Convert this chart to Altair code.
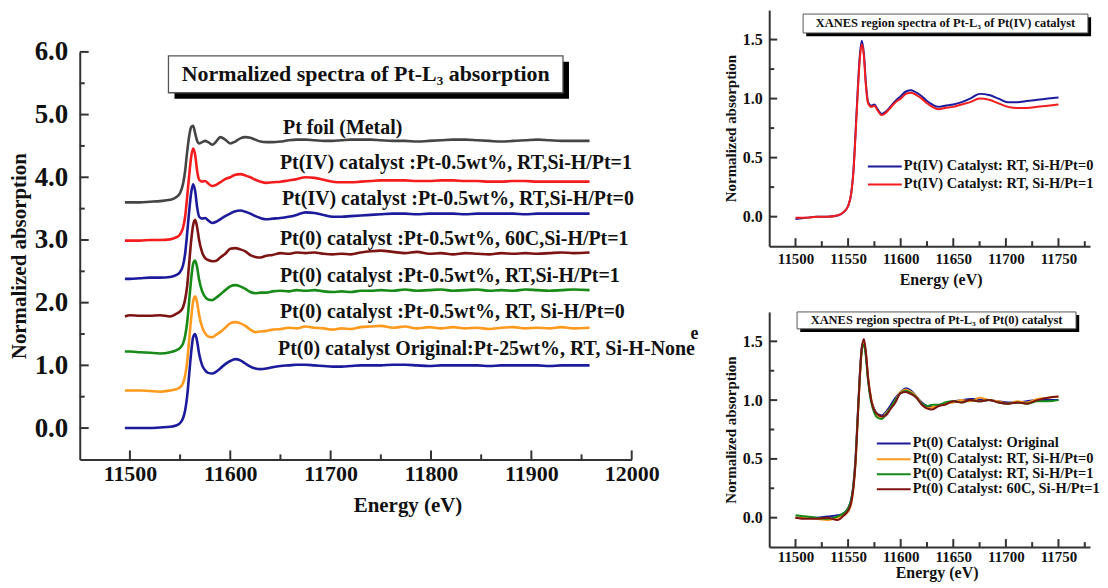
import altair as alt
import pandas as pd

FONT = "Liberation Serif"
NAVY = "#1b1b9b"
ORANGE = "#ff9a1f"
GREEN = "#178a17"
MAROON = "#7d1414"
RED = "#f41c1c"
GRAY = "#454545"
AXC = "#333333"
TXT = "#111111"

# ---------------- data (normalized absorption) ----------------
energy = [11495, 11500, 11510, 11520, 11530, 11540, 11546, 11550, 11553, 11555,
          11557, 11559, 11561, 11563, 11565, 11567, 11569, 11572, 11575, 11578,
          11582, 11586, 11590, 11595, 11600, 11605, 11610, 11615, 11620, 11625,
          11630, 11636, 11642, 11650, 11658, 11666, 11675, 11684, 11693, 11702,
          11711, 11720, 11730, 11740, 11750, 11762, 11774, 11786, 11798, 11810,
          11822, 11834, 11846, 11858, 11870, 11882, 11894, 11906, 11918, 11930,
          11942, 11958]

pt0_original = [0.00, 0.00, 0.00, 0.00, 0.01, 0.02, 0.04, 0.08, 0.16, 0.28,
                0.50, 0.85, 1.20, 1.45, 1.50, 1.38, 1.18, 1.00, 0.92, 0.88,
                0.87, 0.90, 0.95, 1.02, 1.07, 1.10, 1.08, 1.03, 0.98, 0.95,
                0.94, 0.95, 0.97, 0.99, 1.00, 1.01, 1.01, 1.00, 0.99, 0.98,
                0.98, 0.99, 1.00, 1.00, 1.00, 1.01, 1.01, 1.00, 0.99, 1.00,
                1.00, 1.00, 1.00, 0.99, 1.00, 1.00, 1.00, 1.00, 0.99, 1.00,
                1.00, 1.00]

pt0_rt_0 = [0.00, 0.00, 0.00, -0.01, -0.02, 0.00, 0.02, 0.05, 0.12, 0.24,
            0.45, 0.80, 1.15, 1.42, 1.50, 1.40, 1.20, 1.01, 0.91, 0.86,
            0.85, 0.89, 0.93, 1.00, 1.07, 1.09, 1.07, 1.03, 0.97, 0.93,
            0.94, 0.95, 0.97, 0.98, 1.00, 0.99, 1.02, 1.00, 0.99, 0.97,
            0.99, 0.98, 1.01, 1.02, 1.03, 1.00, 1.02, 0.99, 1.01, 0.99,
            1.01, 0.99, 1.00, 0.98, 1.00, 1.01, 0.99, 1.00, 0.99, 1.01,
            0.99, 1.00]

pt0_rt_1 = [0.02, 0.02, 0.01, 0.00, -0.01, 0.01, 0.04, 0.08, 0.15, 0.27,
            0.48, 0.82, 1.17, 1.42, 1.47, 1.36, 1.16, 0.98, 0.89, 0.85,
            0.84, 0.88, 0.93, 1.00, 1.06, 1.08, 1.06, 1.02, 0.97, 0.95,
            0.96, 0.96, 0.98, 0.99, 0.98, 1.00, 0.99, 1.00, 0.98, 0.97,
            0.98, 0.97, 0.99, 0.99, 1.00, 0.99, 1.01, 0.99, 1.00, 1.01,
            0.99, 1.00, 1.01, 0.99, 1.00, 0.99, 1.01, 1.00, 0.99, 1.00,
            1.01, 1.00]

pt0_60c = [-0.02, 0.00, -0.01, -0.01, 0.00, -0.02, 0.02, 0.06, 0.13, 0.25,
           0.46, 0.82, 1.18, 1.44, 1.52, 1.40, 1.19, 1.00, 0.91, 0.88,
           0.86, 0.87, 0.92, 0.98, 1.06, 1.07, 1.05, 1.02, 0.96, 0.93,
           0.92, 0.95, 0.96, 0.99, 0.98, 1.00, 0.99, 1.00, 0.98, 0.97,
           0.98, 0.97, 1.00, 1.02, 1.03, 1.01, 0.99, 1.01, 0.98, 0.99,
           0.97, 0.99, 0.98, 0.97, 0.99, 0.98, 0.99, 0.98, 0.99, 1.00,
           0.99, 1.00]

ptiv_0 = [-0.02, -0.02, -0.01, 0.00, 0.00, 0.01, 0.04, 0.09, 0.20, 0.38,
          0.70, 1.05, 1.35, 1.49, 1.38, 1.12, 0.97, 0.94, 0.95, 0.91,
          0.87, 0.89, 0.93, 0.98, 1.02, 1.06, 1.07, 1.05, 1.02, 0.98,
          0.95, 0.93, 0.94, 0.95, 0.97, 1.00, 1.04, 1.03, 1.00, 0.97,
          0.97, 0.98, 0.99, 1.00, 1.01, 1.02, 1.02, 1.01, 1.02, 1.02,
          1.02, 1.01, 1.02, 1.02, 1.02, 1.02, 1.01, 1.02, 1.02, 1.02,
          1.02, 1.02]

ptiv_1 = [-0.01, -0.01, -0.01, 0.00, 0.00, 0.01, 0.04, 0.09, 0.20, 0.37,
          0.68, 1.02, 1.32, 1.46, 1.36, 1.10, 0.96, 0.93, 0.94, 0.90,
          0.86, 0.88, 0.92, 0.97, 1.00, 1.04, 1.05, 1.03, 1.00, 0.96,
          0.93, 0.91, 0.92, 0.93, 0.95, 0.97, 1.00, 0.99, 0.96, 0.93,
          0.92, 0.92, 0.93, 0.94, 0.95, 0.95, 0.95, 0.94, 0.94, 0.95,
          0.95, 0.94, 0.94, 0.93, 0.93, 0.94, 0.94, 0.93, 0.93, 0.93,
          0.93, 0.93]

pt_foil = [0.00, 0.00, 0.00, 0.01, 0.02, 0.04, 0.08, 0.15, 0.30, 0.50,
           0.80, 1.05, 1.20, 1.22, 1.10, 0.98, 0.94, 0.96, 0.98, 0.96,
           0.92, 0.97, 1.04, 1.00, 0.94, 0.97, 1.02, 1.04, 1.03, 1.00,
           0.97, 0.96, 0.96, 0.97, 0.99, 1.00, 1.00, 0.99, 0.98, 0.98,
           0.99, 1.00, 1.00, 1.00, 0.99, 0.98, 0.98, 0.97, 0.98, 0.99,
           1.00, 1.00, 0.99, 0.98, 0.97, 0.98, 0.99, 1.00, 0.99, 0.98,
           0.98, 0.98]

# stacking of the left panel
left_keys = ["a_orig", "b_rt0", "c_rt1", "d_60c", "e_iv0", "f_iv1", "g_foil"]
left_series = [pt0_original, pt0_rt_0, pt0_rt_1, pt0_60c, ptiv_0, ptiv_1, pt_foil]
left_colors = [NAVY, ORANGE, GREEN, MAROON, NAVY, RED, GRAY]
left_offsets = [0.0, 0.6, 1.2, 1.8, 2.4, 3.0, 3.6]

left_labels = ["Pt foil (Metal)",
               "Pt(IV) catalyst :Pt-0.5wt%, RT,Si-H/Pt=1",
               "Pt(IV) catalyst :Pt-0.5wt%, RT,Si-H/Pt=0",
               "Pt(0) catalyst :Pt-0.5wt%, 60C,Si-H/Pt=1",
               "Pt(0) catalyst :Pt-0.5wt%, RT,Si-H/Pt=1",
               "Pt(0) catalyst :Pt-0.5wt%, RT, Si-H/Pt=0",
               "Pt(0) catalyst Original:Pt-25wt%, RT, Si-H-None"]
left_label_E = [11652.5, 11649.5, 11651.5, 11649.5, 11649.5, 11649.5, 11647.6]
left_label_v = [4.79, 4.22, 3.66, 3.01, 2.42, 1.85, 1.26]

left_x_major = [11500, 11600, 11700, 11800, 11900, 12000]
left_x_minor = [11550, 11650, 11750, 11850, 11950]
left_y_major = [0, 1, 2, 3, 4, 5, 6]
left_y_minor = [0.5, 1.5, 2.5, 3.5, 4.5, 5.5]

right_x_major = [11500, 11550, 11600, 11650, 11700, 11750]
right_x_minor = [11525, 11575, 11625, 11675, 11725, 11775]
right_y_major = [0.0, 0.5, 1.0, 1.5]
right_y_minor = [0.25, 0.75, 1.25]

top_keys = ["a_iv0", "b_iv1"]
top_series = [ptiv_0, ptiv_1]
top_colors = [NAVY, RED]
top_labels = ["Pt(IV) Catalyst: RT, Si-H/Pt=0", "Pt(IV) Catalyst: RT, Si-H/Pt=1"]
top_leg_v = [0.425, 0.273]

bot_keys = ["a_orig", "b_rt0", "c_rt1", "d_60c"]
bot_series = [pt0_original, pt0_rt_0, pt0_rt_1, pt0_60c]
bot_colors = [NAVY, ORANGE, GREEN, MAROON]
bot_labels = ["Pt(0) Catalyst: Original", "Pt(0) Catalyst: RT, Si-H/Pt=0",
              "Pt(0) Catalyst: RT, Si-H/Pt=1", "Pt(0) Catalyst: 60C, Si-H/Pt=1"]
bot_leg_v = [0.631, 0.496, 0.369, 0.242]

# ---------------- helpers ----------------
def long_df(keys, series, colors, offsets=None, emin=None, emax=None):
    rows = []
    for i, (k, s, c) in enumerate(zip(keys, series, colors)):
        off = offsets[i] if offsets else 0.0
        for e, v in zip(energy, s):
            if emin is not None and (e < emin or e > emax):
                continue
            rows.append({"E": e, "v": v + off, "key": k, "color": c})
    return pd.DataFrame(rows)


def make_axis(values, fmt, lsize, lpad, title, tsize, tpad, title_x=None):
    kw = dict(values=values, format=fmt, ticks=False, grid=False, domain=True,
              domainColor=AXC, domainWidth=2, labelFont=FONT, labelFontWeight="bold",
              labelFontSize=lsize, labelColor=TXT, labelPadding=lpad,
              labelFlush=False, labelOverlap=False, title=title, titleFont=FONT,
              titleFontSize=tsize, titleFontWeight="bold", titleColor=TXT,
              titlePadding=tpad)
    if title_x is not None:
        kw["titleX"] = title_x
    return alt.Axis(**kw)


def ticks_layers(xenc, yenc, H, xmaj, xmin, ymaj, ymin, lmaj, lmin):
    out = []
    out.append(alt.Chart(pd.DataFrame({"v": ymaj})).mark_rule(color=AXC, strokeWidth=2)
               .encode(y=yenc, x=alt.value(0), x2=alt.value(lmaj)))
    out.append(alt.Chart(pd.DataFrame({"v": ymin})).mark_rule(color=AXC, strokeWidth=2)
               .encode(y=yenc, x=alt.value(0), x2=alt.value(lmin)))
    out.append(alt.Chart(pd.DataFrame({"E": xmaj})).mark_rule(color=AXC, strokeWidth=2)
               .encode(x=xenc, y=alt.value(H), y2=alt.value(H - lmaj)))
    out.append(alt.Chart(pd.DataFrame({"E": xmin})).mark_rule(color=AXC, strokeWidth=2)
               .encode(x=xenc, y=alt.value(H), y2=alt.value(H - lmin)))
    return out


def title_box(xenc, yenc, e1, e2, v1, v2, de, dv, text, tE, tv, fsize, sw):
    shadow = alt.Chart(pd.DataFrame({"E": [e1 + de], "E2": [e2 + de], "v": [v1 - dv], "v2": [v2 - dv]})) \
        .mark_rect(fill="#000000").encode(x=xenc, x2="E2:Q", y=yenc, y2="v2:Q")
    box = alt.Chart(pd.DataFrame({"E": [e1], "E2": [e2], "v": [v1], "v2": [v2]})) \
        .mark_rect(fill="#ffffff", stroke="#555555", strokeWidth=sw) \
        .encode(x=xenc, x2="E2:Q", y=yenc, y2="v2:Q")
    txt = alt.Chart(pd.DataFrame({"E": [tE], "v": [tv], "t": [text]})) \
        .mark_text(font=FONT, fontWeight="bold", fontSize=fsize, color=TXT, align="center", baseline="middle") \
        .encode(x=xenc, y=yenc, text="t:N")
    return [shadow, box, txt]


def bound_marker(xpx):
    # invisible point that fixes the horizontal extent used by the concat layout
    return alt.Chart(pd.DataFrame({"a": [0]})).mark_point(opacity=0, size=1, strokeWidth=0) \
        .encode(x=alt.value(xpx), y=alt.value(0))


# ---------------- left panel ----------------
LW, LH = 554, 409
xs_L = alt.Scale(domain=[11450, 12000], nice=False, zero=False)
ys_L = alt.Scale(domain=[-0.5, 6.0], nice=False, zero=False)
xL = alt.X("E:Q", scale=xs_L,
           axis=make_axis(left_x_major, "d", 22, 4, "Energy (eV)", 21, 10, title_x=329))
yL = alt.Y("v:Q", scale=ys_L,
           axis=make_axis(left_y_major, ".1f", 27, 12, "Normalized absorption", 21, 5))

left_df = long_df(left_keys, left_series, left_colors, left_offsets)
left_lines = alt.Chart(left_df).mark_line(strokeWidth=2.6, interpolate="monotone").encode(
    x=xL, y=yL, detail="key:N", color=alt.Color("color:N", scale=None))
left_text = alt.Chart(pd.DataFrame({"E": left_label_E, "v": left_label_v, "t": left_labels})) \
    .mark_text(font=FONT, fontWeight="bold", fontSize=20, color=TXT, align="left", baseline="middle") \
    .encode(x=xL, y=yL, text="t:N")
stray = alt.Chart(pd.DataFrame({"E": [12062.5], "v": [1.50], "t": ["e"]})) \
    .mark_text(font=FONT, fontWeight="bold", fontSize=18, color=TXT, align="center", baseline="middle") \
    .encode(x=xL, y=yL, text="t:N")

left = alt.layer(
    *ticks_layers(xL, yL, LH, left_x_major, left_x_minor, left_y_major, left_y_minor, 9, 5),
    left_lines,
    *title_box(xL, yL, 11538.4, 11931.5, 5.936, 5.348, 6.0, 0.095,
               "Normalized spectra of Pt-L\u2083 absorption", 11735, 5.65, 22, 1.3),
    left_text, stray, bound_marker(LW + 80),
).properties(width=LW, height=LH)

spacer = alt.Chart(pd.DataFrame({"a": [0]})).mark_point(opacity=0, size=1, strokeWidth=0) \
    .properties(width=LW, height=1)

# ---------------- right panels ----------------
RW, RTH, RBH = 322, 237, 236
xs_R = alt.Scale(domain=[11475, 11780], nice=False, zero=False)
ys_R = alt.Scale(domain=[-0.25, 1.75], nice=False, zero=False)


def right_panel(H, keys, series, colors, labels, leg_v, leg_E, box, box_text, box_tv, lpadx, tpadx, title_x):
    xR = alt.X("E:Q", scale=xs_R,
               axis=make_axis(right_x_major, "d", 15, lpadx, "Energy (eV)", 16, tpadx, title_x=title_x))
    yR = alt.Y("v:Q", scale=ys_R,
               axis=make_axis(right_y_major, ".1f", 16, 7, "Normalized absorption", 15, 4))
    df = long_df(keys, series, colors, None, 11500, 11750)
    lines = alt.Chart(df).mark_line(strokeWidth=2, interpolate="monotone").encode(
        x=xR, y=yR, detail="key:N", color=alt.Color("color:N", scale=None))
    e1, e2, et = leg_E
    leg_rule = alt.Chart(pd.DataFrame({"E": [e1] * len(labels), "E2": [e2] * len(labels),
                                       "v": leg_v, "color": colors})) \
        .mark_rule(strokeWidth=2).encode(x=xR, x2="E2:Q", y=yR, color=alt.Color("color:N", scale=None))
    leg_txt = alt.Chart(pd.DataFrame({"E": [et] * len(labels), "v": leg_v, "t": labels})) \
        .mark_text(font=FONT, fontWeight="bold", fontSize=14.5, color=TXT, align="left", baseline="middle") \
        .encode(x=xR, y=yR, text="t:N")
    b = title_box(xR, yR, box[0], box[1], box[2], box[3], 3.0, 0.027, box_text,
                  (box[0] + box[1]) / 2, box_tv, 12.5, 1.0)
    return alt.layer(
        *ticks_layers(xR, yR, H, right_x_major, right_x_minor, right_y_major, right_y_minor, 8, 5),
        lines, *b, leg_rule, leg_txt, bound_marker(-56),
    ).properties(width=RW, height=H)


rt = right_panel(RTH, top_keys, top_series, top_colors, top_labels, top_leg_v,
                 (11568.8, 11601.0, 11603.0),
                 (11507.2, 11778.0, 1.716, 1.556),
                 "XANES region spectra of Pt-L\u2083 of Pt(IV) catalyst", 1.636, 5, 5, 172)
rb = right_panel(RBH, bot_keys, bot_series, bot_colors, bot_labels, bot_leg_v,
                 (11577.3, 11609.5, 11611.4),
                 (11501.5, 11766.7, 1.75, 1.606),
                 "XANES region spectra of Pt-L\u2083 of Pt(0) catalyst", 1.68, 2, 1, 168)

left_col = alt.vconcat(spacer, left, spacing=41, bounds="flush")
right_col = alt.vconcat(rt, rb, spacing=66, bounds="flush")

chart = alt.hconcat(left_col, right_col, spacing=0) \
    .properties(padding=0, background="#ffffff") \
    .configure_view(stroke=None)

chart.save("out.html", embed_options={"renderer": "svg", "actions": False})
